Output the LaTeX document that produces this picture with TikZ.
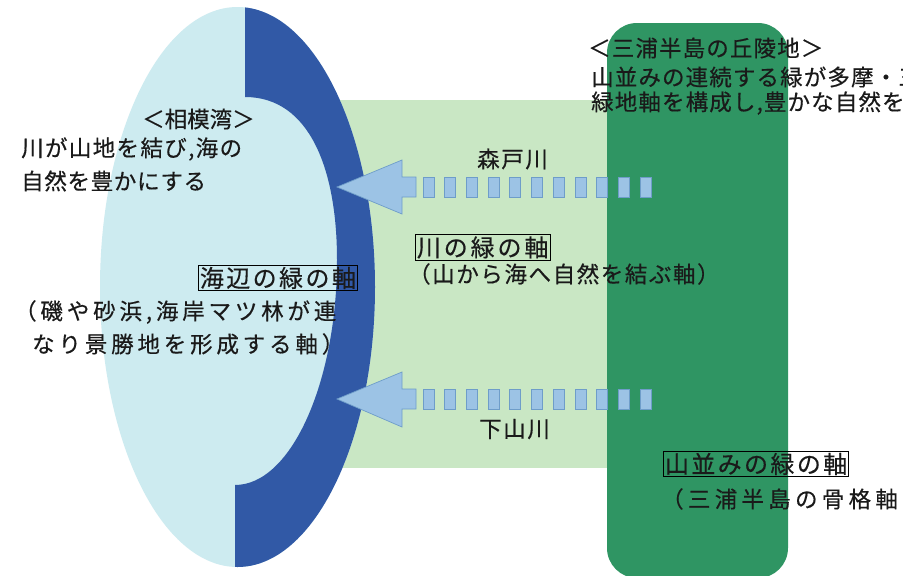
\documentclass[tikz,border=0pt]{standalone}
\usepackage{fontspec}
\newfontfamily\jp{Noto Sans CJK JP}[FakeBold=0.4]
\definecolor{seaC}{HTML}{CDEBF0}
\definecolor{bandC}{HTML}{3159A6}
\definecolor{lgreen}{HTML}{C9E7C4}
\definecolor{dgreen}{HTML}{2F9563}
\definecolor{arrF}{HTML}{9CC3E5}
\definecolor{arrD}{HTML}{6E9DC9}
\definecolor{txt}{HTML}{1A1A1A}
\tikzset{
  lbl/.style={font=\jp\fontsize{22.5}{26}\selectfont\addfontfeature{LetterSpace=#1}, text=txt, inner sep=0pt, anchor=west},
  lbl/.default=5,
  boxlbl/.style={font=\jp\fontsize{24}{27}\selectfont\addfontfeature{LetterSpace=#1}, text=txt, anchor=west, draw=black, line width=0.8pt, inner xsep=1.5pt, inner ysep=1.5pt},
  boxlbl/.default=10,
  headshape/.style={fill=arrF, draw=arrD, line width=0.7pt, line join=miter},
  sq/.style={fill=arrF, draw=arrD, line width=0.8pt},
}
\begin{document}
\begin{tikzpicture}[x=1pt,y=-1pt]
\useasboundingbox (0,0) rectangle (903,576);
\clip (0,0) rectangle (903,576);
\fill[white] (0,0) rectangle (903,576);
% light green river axis band
\fill[lgreen] (330,100) rectangle (615,468);
% sea ellipse
\fill[seaC] (237.5,287) ellipse [x radius=137.5, y radius=280];
% coastal band
\begin{scope}
  \clip (237.5,287) ellipse [x radius=137.5, y radius=280];
  \fill[bandC] (245,-5) -- (245,97) .. controls (310,97) and (337,170) .. (337,260)
     .. controls (337,380) and (292,485) .. (235,485) -- (235,600) -- (420,600) -- (420,-5) -- cycle;
\end{scope}
% hills (dark green)
\fill[dgreen, rounded corners=30pt] (607,23) rectangle (788,578);
% upper arrow (Morito river)
\coordinate (tipA) at (337,187);
\draw[headshape] (tipA) -- (402,160) -- (402,177) -- (416,177) -- (416,197) -- (402,197) -- (402,214) -- cycle;
\foreach \i in {0,...,10} \draw[sq] (423+\i*21.7,177) rectangle ++(11,20);
% lower arrow (Shimoyama river)
\coordinate (tipB) at (337,399);
\draw[headshape] (tipB) -- (402,372) -- (402,389) -- (416,389) -- (416,409) -- (402,409) -- (402,427) -- cycle;
\foreach \i in {0,...,10} \draw[sq] (423+\i*21.7,389) rectangle ++(11,20);
% texts
\node[lbl=0] (sagami) at (142,119) {＜相模湾＞};
\node[lbl=6] (s1) at (21,149) {川が山地を結び,海の};
\node[lbl=3] (s2) at (21,181) {自然を豊かにする};
\node[boxlbl=10] (umibe) at (198,278) {海辺の緑の軸};
\node[lbl=17] (u1) at (14,312) {（磯や砂浜,海岸マツ林が連};
\node[lbl=17] (u2) at (32,344) {なり景勝地を形成する軸）};
\node[lbl=7] (morito) at (477,159) {森戸川};
\node[lbl=7] (shimo) at (479,429) {下山川};
\node[boxlbl=12] (kawa) at (415,247.5) {川の緑の軸};
\node[lbl=7] (k1) at (408,274) {（山から海へ自然を結ぶ軸）};
\node[lbl=5] (miura) at (588,48) {＜三浦半島の丘陵地＞};
\node[lbl=5] (m1) at (591,77) {山並みの連続する緑が多摩・三};
\node[lbl=5] (m2) at (591,103) {緑地軸を構成し,豊かな自然を};
\node[boxlbl=10] (yama) at (663,464) {山並みの緑の軸};
\node[lbl=19] (y1) at (661,499) {（三浦半島の骨格軸）};
\end{tikzpicture}
\end{document}
